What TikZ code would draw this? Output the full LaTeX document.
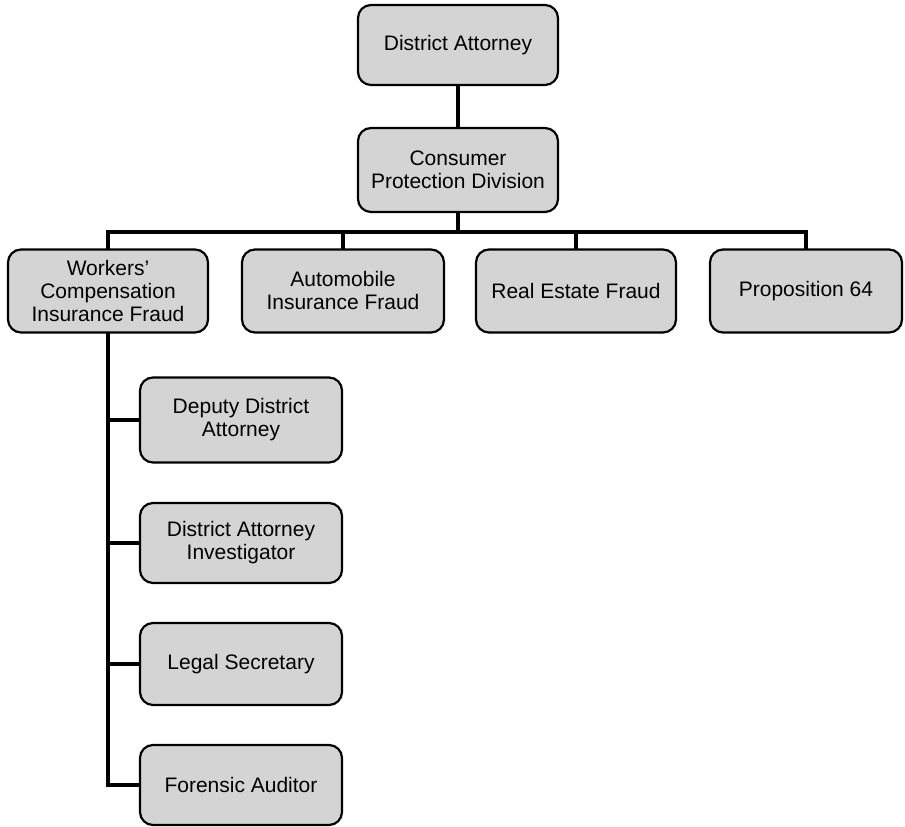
\documentclass[tikz,border=0pt]{standalone}
\usepackage{fontspec}
\setmainfont{Liberation Sans}
\usetikzlibrary{positioning}

\begin{document}
\begin{tikzpicture}[x=1pt,y=1pt,
  unit/.style={draw=black,line width=2.2pt,fill=black!17,rounded corners=13pt,
    minimum width=200pt,minimum height=83pt,align=center,inner sep=2pt,
    font=\fontsize{21}{23}\selectfont},
  link/.style={line width=4pt,line cap=rect}]
\useasboundingbox (0,0) rectangle (905,827);
\node[unit,minimum height=80pt] (da) at (458,782) {District Attorney};
\node[unit,minimum height=84pt] (cpd) at (458,657) {Consumer\\Protection Division};
\coordinate (bus) at (458,595);
\node[unit] (wcif) at (108,536) {Workers'\\Compensation\\Insurance Fraud};
\node[unit,minimum width=202pt] (aif) at (343,536) {Automobile\\Insurance Fraud};
\node[unit] (ref) at (576,536) {Real Estate Fraud};
\node[unit,minimum width=192pt] (p64) at (806,536) {Proposition 64};
\node[unit,minimum width=202pt,minimum height=85pt] (dda) at (241,407) {Deputy District\\Attorney};
\node[unit,minimum width=202pt,minimum height=80pt] (dai) at (241,284) {District Attorney\\Investigator};
\node[unit,minimum width=202pt,minimum height=82pt] (lsec) at (241,163) {Legal Secretary};
\node[unit,minimum width=202pt,minimum height=80pt] (fa) at (241,42) {Forensic Auditor};
\draw[link] (da) -- (cpd);
\draw[link] (cpd) -- (bus);
\draw[link] (wcif) |- (bus) -| (p64);
\draw[link] (aif) -- (aif |- bus);
\draw[link] (ref) -- (ref |- bus);
\draw[link] (wcif) |- (fa);
\draw[link] (wcif) |- (lsec);
\draw[link] (wcif) |- (dai);
\draw[link] (wcif) |- (dda);
\end{tikzpicture}
\end{document}
